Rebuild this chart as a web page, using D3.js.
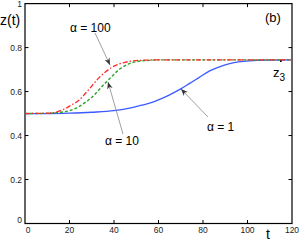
<!DOCTYPE html>
<html lang="en">
<head>
    <meta charset="UTF-8">
    <title>z(t)</title>
    <script src="https://d3js.org/d3.v7.min.js"></script>
    <style>
        body { margin: 0; background: #fff; }
        text { font-family: "Liberation Sans", Arial, sans-serif; }
    </style>
</head>
<body>
    <div id="chart"></div>

    <script type="text/javascript">
        // data
        var xTicks = [0, 20, 40, 60, 80, 100, 120];
        var yTicks = [0, 0.2, 0.4, 0.6, 0.8, 1];
        var yTickLabels = ["0", "0.2", "0.4", "0.6", "0.8", "1"];

        var tA1 = [0, 10, 20, 30, 40, 47, 52, 56, 60, 65, 70, 74, 78, 83, 88, 92, 96, 101, 110, 120];
        var zA1 = [0.5, 0.5, 0.502, 0.506, 0.513, 0.525, 0.537, 0.547, 0.562, 0.585, 0.612, 0.637, 0.662, 0.694, 0.715, 0.727, 0.735, 0.74, 0.743, 0.744];

        var tA10 = [0, 10, 15, 20, 24, 27, 30, 33, 36, 39, 42, 45, 48, 52, 56, 60, 80, 100, 120];
        var zA10 = [0.5, 0.501, 0.505, 0.513, 0.53, 0.55, 0.573, 0.605, 0.638, 0.668, 0.698, 0.718, 0.731, 0.739, 0.742, 0.744, 0.744, 0.744, 0.744];

        var tA100 = [0, 10, 15, 18, 21, 24, 27, 30, 33, 36, 39, 42, 45, 48, 52, 60, 80, 100, 120];
        var zA100 = [0.5, 0.502, 0.51, 0.522, 0.54, 0.558, 0.59, 0.625, 0.66, 0.688, 0.71, 0.724, 0.733, 0.739, 0.742, 0.744, 0.744, 0.744, 0.744];

        var z3 = { t: 115, z: 0.745 };

        var width = 300, height = 241;
        var x = d3.scaleLinear().domain([0, 120]).range([25, 292]);
        var y = d3.scaleLinear().domain([0, 1]).range([223.5, 3.6]);

        var svg = d3.select("#chart").append("svg")
            .attr("width", width)
            .attr("height", height);

        // arrow head
        svg.append("defs").append("marker")
            .attr("id", "head")
            .attr("viewBox", "0 0 10 10")
            .attr("refX", 10).attr("refY", 5)
            .attr("markerWidth", 7).attr("markerHeight", 7)
            .attr("markerUnits", "userSpaceOnUse")
            .attr("orient", "auto")
            .append("path")
            .attr("d", "M0,1 L10,5 L0,9 L3,5 Z")
            .attr("fill", "#333");

        // box
        svg.append("rect")
            .attr("x", x(0)).attr("y", y(1))
            .attr("width", x(120) - x(0)).attr("height", y(0) - y(1))
            .attr("fill", "none").attr("stroke", "#000").attr("stroke-width", 1.2);

        // inner ticks on all four sides
        var tk = 3.5;
        xTicks.slice(1, -1).forEach(function(v) {
            svg.append("line").attr("x1", x(v)).attr("x2", x(v))
                .attr("y1", y(0)).attr("y2", y(0) - tk).attr("stroke", "#000");
            svg.append("line").attr("x1", x(v)).attr("x2", x(v))
                .attr("y1", y(1)).attr("y2", y(1) + tk).attr("stroke", "#000");
        });
        yTicks.slice(1, -1).forEach(function(v) {
            svg.append("line").attr("x1", x(0)).attr("x2", x(0) + tk)
                .attr("y1", y(v)).attr("y2", y(v)).attr("stroke", "#000");
            svg.append("line").attr("x1", x(120)).attr("x2", x(120) - tk)
                .attr("y1", y(v)).attr("y2", y(v)).attr("stroke", "#000");
        });

        // tick labels
        svg.selectAll(".xl").data(xTicks).enter().append("text")
            .attr("x", function(d) { return x(d) + (d === 0 ? 3 : 0); })
            .attr("y", 233)
            .attr("text-anchor", "middle")
            .attr("font-size", 8.5)
            .attr("fill", "#222")
            .text(function(d) { return d; });

        svg.selectAll(".yl").data(yTicks).enter().append("text")
            .attr("x", 22)
            .attr("y", function(d) { return y(d) + 3 - (d === 0 ? 4 : 0); })
            .attr("text-anchor", "end")
            .attr("font-size", 8.5)
            .attr("fill", "#222")
            .text(function(d, i) { return yTickLabels[i]; });

        // curves
        function series(ts, zs) {
            return ts.map(function(t, i) { return [t, zs[i]]; });
        }
        var line = d3.line()
            .x(function(d) { return x(d[0]); })
            .y(function(d) { return y(d[1]); })
            .curve(d3.curveMonotoneX);

        svg.append("path").datum(series(tA1, zA1))
            .attr("d", line).attr("fill", "none")
            .attr("stroke", "#3b5bff").attr("stroke-width", 1.3);

        svg.append("path").datum(series(tA10, zA10))
            .attr("d", line).attr("fill", "none")
            .attr("stroke", "#2aa52a").attr("stroke-width", 1.4)
            .attr("stroke-dasharray", "3,2");

        svg.append("path").datum(series(tA100, zA100))
            .attr("d", line).attr("fill", "none")
            .attr("stroke", "#ff2a2a").attr("stroke-width", 1.3)
            .attr("stroke-dasharray", "5,2,1.5,2");

        // z3 marker
        svg.append("circle")
            .attr("cx", x(z3.t)).attr("cy", y(z3.z) + 1.5)
            .attr("r", 0.9).attr("fill", "#000");

        // annotations
        function arrow(x1, y1, x2, y2) {
            svg.append("line")
                .attr("x1", x1).attr("y1", y1).attr("x2", x2).attr("y2", y2)
                .attr("stroke", "#888").attr("stroke-width", 0.8)
                .attr("marker-end", "url(#head)");
        }
        arrow(95, 33, 110, 65);
        arrow(123, 134, 108, 82);
        arrow(208, 117, 181, 89);

        svg.append("text").attr("x", 70).attr("y", 32).attr("font-size", 12).text("α = 100");
        svg.append("text").attr("x", 105).attr("y", 145).attr("font-size", 12).text("α = 10");
        svg.append("text").attr("x", 207).attr("y", 131).attr("font-size", 12).text("α = 1");

        svg.append("text").attr("x", 0).attr("y", 25).attr("font-size", 14).text("z(t)");
        svg.append("text").attr("x", 266).attr("y", 239).attr("font-size", 14).text("t");
        svg.append("text").attr("x", 265).attr("y", 22).attr("font-size", 13).text("(b)");

        var zl = svg.append("text").attr("x", 273).attr("y", 77).attr("font-size", 13);
        zl.append("tspan").text("z");
        zl.append("tspan").attr("font-size", 10).attr("dy", 4).text("3");
    </script>
</body>
</html>
